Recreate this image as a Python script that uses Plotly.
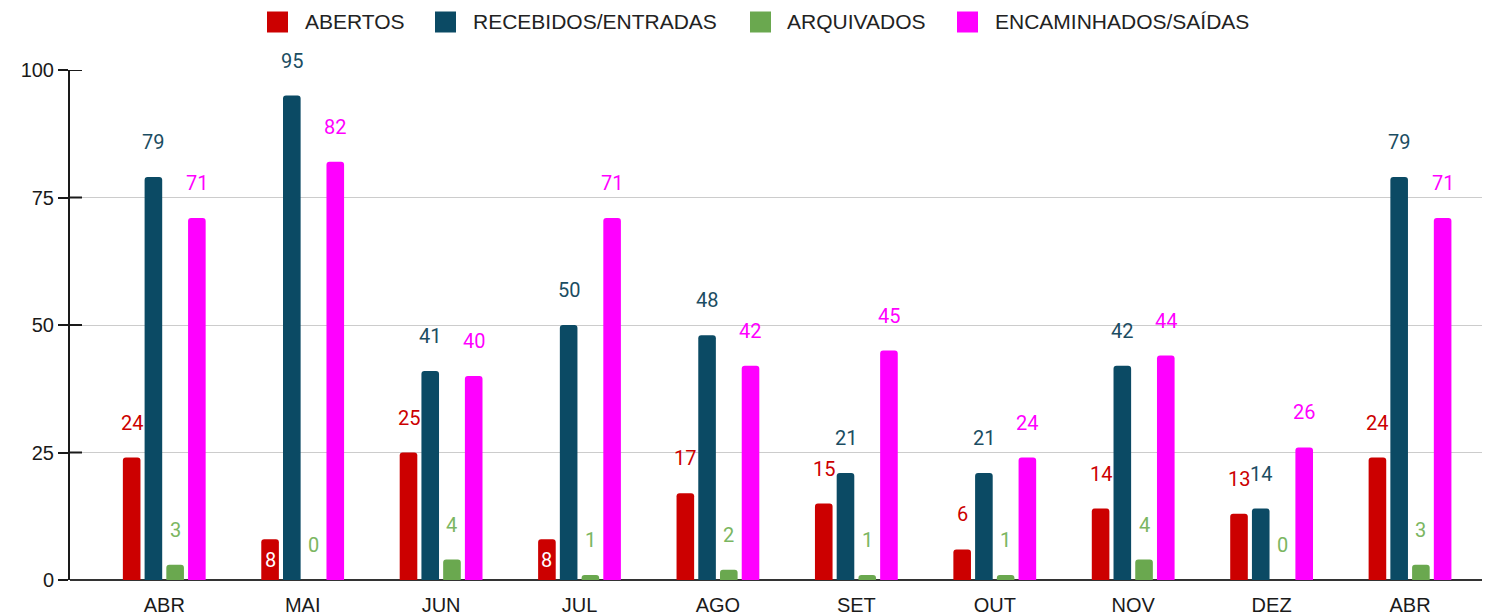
import plotly.graph_objects as go

# Monthly process counts
months = ["ABR", "MAI", "JUN", "JUL", "AGO", "SET", "OUT", "NOV", "DEZ", "ABR"]
abertos = [24, 8, 25, 8, 17, 15, 6, 14, 13, 24]
recebidos = [79, 95, 41, 50, 48, 21, 21, 42, 14, 79]
arquivados = [3, 0, 4, 1, 2, 1, 1, 4, 0, 3]
encaminhados = [71, 82, 40, 71, 42, 45, 24, 44, 26, 71]

series_names = ["ABERTOS", "RECEBIDOS/ENTRADAS", "ARQUIVADOS", "ENCAMINHADOS/SAÍDAS"]
series_values = [abertos, recebidos, arquivados, encaminhados]
bar_colors = ["#cc0000", "#0b4a64", "#6aa84f", "#ff00ff"]
label_colors = ["#cc0000", "#1b4d62", "#7bb661", "#ff00ff"]

# labels drawn inside the bar (white) instead of above it
inside_labels = {(0, 1), (0, 3)}

W, H = 1492, 615
ML, MR, MT, MB = 70, 10, 70, 35
PW, PH = W - ML - MR, H - MT - MB

x_idx = list(range(len(months)))

fig = go.Figure()
for name, vals, col in zip(series_names, series_values, bar_colors):
    fig.add_trace(go.Bar(
        x=x_idx, y=vals, name=name,
        marker=dict(color=col, line=dict(width=0), cornerradius=3),
        showlegend=False, hoverinfo="y+name",
    ))

# value labels
slot_px = 21.7
annotations = []
for k, (vals, lc) in enumerate(zip(series_values, label_colors)):
    for i, v in enumerate(vals):
        inside = (k, i) in inside_labels
        annotations.append(dict(
            x=i, y=v, xref="x", yref="y", text=str(v), showarrow=False,
            xshift=(k - 1.5) * slot_px, yshift=-21 if inside else 35,
            xanchor="center", yanchor="middle",
            font=dict(family="Roboto", size=20, color="#ffffff" if inside else lc),
        ))

# legend with large rounded swatches
legend_items = [(267, 303), (435, 471), (750, 785), (957, 993)]
legend_y = 22
shapes = []
for (sx, tx), name, col in zip(legend_items, series_names, bar_colors):
    x0 = (sx - ML) / PW
    x1 = (sx + 21 - ML) / PW
    y0 = (H - MB - (legend_y + 10.5)) / PH
    y1 = (H - MB - (legend_y - 10.5)) / PH
    shapes.append(dict(type="rect", xref="paper", yref="paper",
                       x0=x0, x1=x1, y0=y0, y1=y1,
                       fillcolor=col, line=dict(width=0), layer="above"))
    annotations.append(dict(
        x=(tx - ML) / PW, y=(H - MB - legend_y) / PH, xref="paper", yref="paper",
        text=name, showarrow=False, xanchor="left", yanchor="middle",
        font=dict(family="Liberation Sans, Arial", size=21, color="#222222"),
    ))

# small inner tick marks on the y axis
for t in [25, 50, 75, 100]:
    shapes.append(dict(type="line", xref="paper", yref="y",
                       x0=0, x1=12 / PW, y0=t, y1=t,
                       line=dict(color="#1a1a1a", width=2), layer="above"))

fig.update_layout(
    width=W, height=H,
    margin=dict(l=ML, r=MR, t=MT, b=MB, pad=0, autoexpand=False),
    paper_bgcolor="white", plot_bgcolor="white",
    barmode="group", bargap=0.372, bargroupgap=0.19,
    annotations=annotations, shapes=shapes,
    font=dict(family="Liberation Sans, Arial", size=20, color="#222222"),
    xaxis=dict(
        range=[-0.681, 9.52], tickmode="array", tickvals=x_idx, ticktext=months,
        showgrid=False, zeroline=False, showline=False, ticks="",
        ticklabelstandoff=11, automargin=False,
        tickfont=dict(family="Liberation Sans, Arial", size=20, color="#1a1a1a"),
        fixedrange=True,
    ),
    yaxis=dict(
        range=[0, 100], tickvals=[0, 25, 50, 75, 100],
        showgrid=True, gridcolor="#cccccc", gridwidth=1,
        zeroline=True, zerolinecolor="#333333", zerolinewidth=2,
        showline=True, linecolor="#1a1a1a", linewidth=2,
        ticks="outside", ticklen=10, tickwidth=2, tickcolor="#1a1a1a",
        automargin=False,
        tickfont=dict(family="Liberation Sans, Arial", size=20, color="#1a1a1a"),
        fixedrange=True,
    ),
)

fig.write_html("out.html")
